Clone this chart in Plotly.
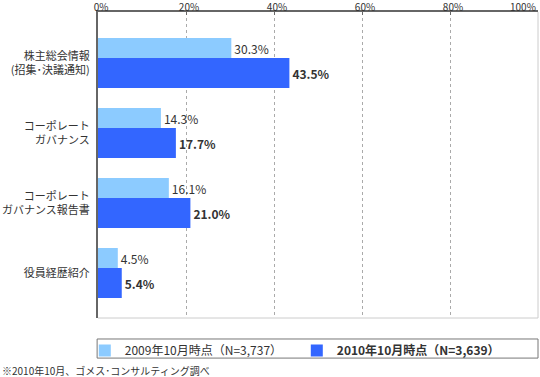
import plotly.graph_objects as go

categories = ["株主総会情報<br>(招集･決議通知)", "コーポレート<br>ガバナンス", "コーポレート<br>ガバナンス報告書", "役員経歴紹介"]
values_2009 = [30.3, 14.3, 16.1, 4.5]
values_2010 = [43.5, 17.7, 21.0, 5.4]
name_2009 = "2009年10月時点（N=3,737）"
name_2010 = "<b>2010年10月時点（N=3,639）</b>"
tick_vals = [0, 20, 40, 60, 80, 100]
tick_text = ["0%", "20%", "40%", "60%", "80%", ""]
last_tick_label = "100%"

FONT = "Noto Sans CJK JP, Noto Sans, sans-serif"

fig = go.Figure()
fig.add_trace(go.Bar(
    y=categories, x=values_2009, orientation="h", name=name_2009,
    marker=dict(color="#8CCBFF", line=dict(width=0)),
    width=0.286, offset=-0.357,
    text=[f"{v:.1f}%" for v in values_2009], textposition="outside",
    textfont=dict(size=12, color="#333333", family=FONT),
    cliponaxis=False,
))
fig.add_trace(go.Bar(
    y=categories, x=values_2010, orientation="h", name=name_2010,
    marker=dict(color="#3366FF", line=dict(width=0)),
    width=0.4286, offset=-0.0714,
    text=[f"<b>{v:.1f}%</b>" for v in values_2010], textposition="outside",
    textfont=dict(size=12, color="#333333", family=FONT),
    cliponaxis=False,
))

fig.update_layout(
    width=540, height=377,
    margin=dict(l=98, r=2, t=12, b=59),
    barmode="overlay",
    paper_bgcolor="white", plot_bgcolor="white",
    font=dict(family=FONT, color="#333333", size=12),
    xaxis=dict(
        side="top", range=[0, 100], tickvals=tick_vals, ticktext=tick_text,
        showgrid=True, gridcolor="#aaaaaa", griddash="dot", gridwidth=1,
        showline=True, linecolor="#666666", linewidth=2,
        ticks="inside", ticklen=3, tickcolor="#666666",
        tickfont=dict(size=10, color="#333333"), zeroline=False,
        automargin=False, ticklabeloverflow="allow", ticklabelstandoff=-5,
        ticklabelshift=3,
    ),
    yaxis=dict(
        range=[3.643, -0.729], showline=True, linecolor="#666666", linewidth=2,
        showgrid=False, ticks="", tickfont=dict(size=11, color="#333333"),
        ticklabelstandoff=4, automargin=False,
    ),
    showlegend=True,
    legend=dict(
        orientation="h", x=-0.03, xanchor="left", y=-0.059, yanchor="top",
        font=dict(size=12, color="#333333", family=FONT),
        bgcolor="rgba(0,0,0,0)", borderwidth=0,
        entrywidth=167, entrywidthmode="pixels", traceorder="normal",
        itemclick=False,
    ),
    shapes=[
        dict(type="line", xref="paper", yref="paper", x0=1, x1=1, y0=0, y1=1,
             line=dict(color="#cccccc", width=1)),
        dict(type="line", xref="paper", yref="paper", x0=0, x1=1, y0=0, y1=0,
             line=dict(color="#cccccc", width=1)),
        dict(type="rect", xref="paper", yref="paper", x0=-0.002, x1=1.0,
             y0=-0.131, y1=-0.0686, line=dict(color="#777777", width=1),
             fillcolor="rgba(0,0,0,0)"),
    ],
    annotations=[
        dict(text=last_tick_label, xref="x", yref="paper", x=tick_vals[-1], y=1,
             xanchor="right", yanchor="middle", yshift=6, xshift=0, showarrow=False,
             font=dict(size=10, color="#333333", family=FONT)),
        dict(text="※2010年10月、ゴメス･コンサルティング調べ", xref="paper", yref="paper",
             x=-0.222, y=-0.139, xanchor="left", yanchor="top", showarrow=False,
             font=dict(size=10, color="#333333", family=FONT)),
    ],
)

fig.write_html("out.html", config={"displayModeBar": False},
               post_script="document.body.style.margin='0px';")
